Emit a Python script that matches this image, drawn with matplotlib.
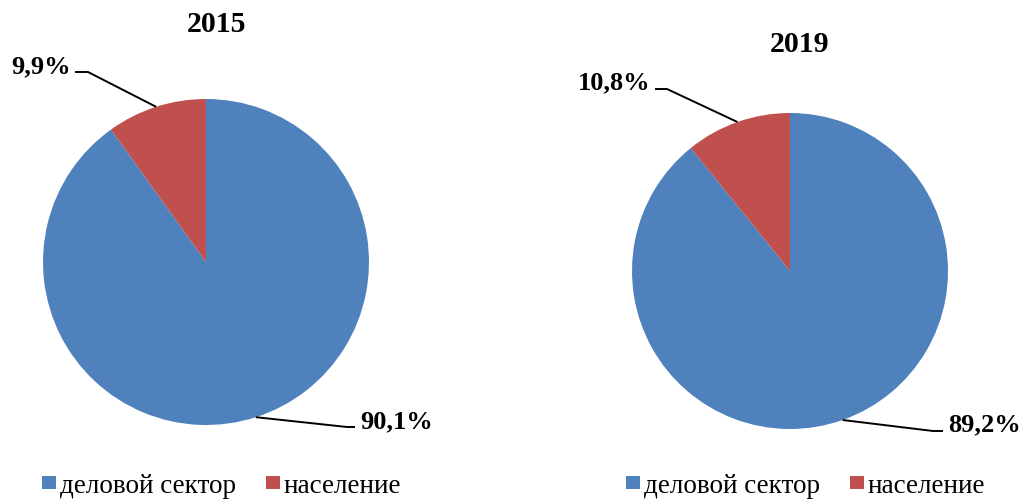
import numpy as np
import matplotlib
matplotlib.use("Agg")
import matplotlib.pyplot as plt
from matplotlib.patches import Rectangle

# ---- data ----
years = ["2015", "2019"]
categories = ["деловой сектор", "население"]
shares_2015 = [90.1, 9.9]
shares_2019 = [89.2, 10.8]
colors = ["#4F81BD", "#C0504D"]

W, H = 1026, 499
fig = plt.figure(figsize=(W / 100, H / 100), dpi=100)
ax = fig.add_axes([0, 0, 1, 1])
ax.set_xlim(0, W)
ax.set_ylim(0, H)
ax.axis("off")

SERIF = "Liberation Serif"


def fmt(v):
    return f"{v:.1f}".replace(".", ",") + "%"


def py(y):  # pixel-from-top to data y
    return H - y


panels = [
    dict(vals=shares_2015, year=years[0], cx=206, cy=262, r=163,
         title=(216, 32),
         labels=[  # (text pos x, baseline y, elbow x, elbow y, end x, ha)
             dict(tx=360, ty=428, ex=347, ey=427, hx=355, ha="left"),
             dict(tx=71, ty=73, ex=88, ey=72, hx=75, ha="right"),
         ],
         legend_x=42),
    dict(vals=shares_2019, year=years[1], cx=790, cy=271, r=158,
         title=(800, 52),
         labels=[
             dict(tx=948, ty=431, ex=933, ey=431, hx=943, ha="left"),
             dict(tx=650, ty=89, ex=667, ey=89, hx=655, ha="right"),
         ],
         legend_x=626),
]

for p in panels:
    vals = p["vals"]
    ax.pie(vals, colors=colors, startangle=90, counterclock=False,
           center=(p["cx"], py(p["cy"])), radius=p["r"],
           wedgeprops=dict(linewidth=0), frame=True)
    ax.text(p["title"][0], py(p["title"][1]), p["year"], family=SERIF,
            fontweight="bold", fontsize=21.5, ha="center", va="baseline")
    # leader lines from wedge mid-angle
    total = sum(vals)
    cum = 0.0
    for v, lab in zip(vals, p["labels"]):
        mid = 90 - (cum + v / 2) / total * 360  # clockwise from top
        cum += v
        ax_x = p["cx"] + p["r"] * np.cos(np.radians(mid))
        ax_y = py(p["cy"]) + p["r"] * np.sin(np.radians(mid))
        ax.plot([ax_x, lab["ex"], lab["hx"]],
                [ax_y, py(lab["ey"]), py(lab["ey"])],
                color="black", lw=1.4, solid_capstyle="butt")
        ax.text(lab["tx"], py(lab["ty"]), fmt(v), family=SERIF,
                fontweight="bold", fontsize=19, ha=lab["ha"], va="baseline")
    # legend
    lx = p["legend_x"]
    x = lx
    for cat, col, gap in zip(categories, colors, [224, 0]):
        ax.add_patch(Rectangle((x, py(489)), 13.5, 13.5, color=col, lw=0))
        ax.text(x + 18, py(493), cat, family=SERIF, fontsize=19.5,
                ha="left", va="baseline")
        x += gap

ax.set_xlim(0, W)
ax.set_ylim(0, H)
ax.set_aspect("auto")
ax.axis("off")

fig.savefig("out.png", dpi=100)
